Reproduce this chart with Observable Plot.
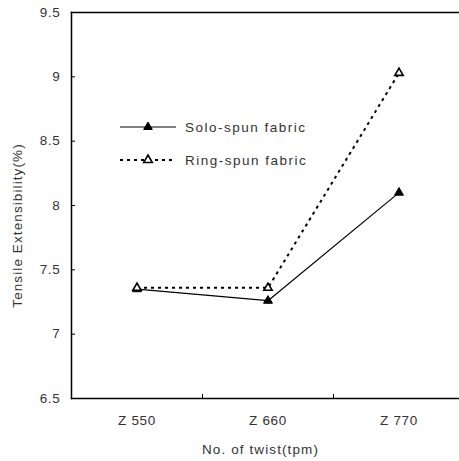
<!DOCTYPE html>
<html><head><meta charset="utf-8">
<script src="https://cdn.jsdelivr.net/npm/d3@7"></script>
<script src="https://cdn.jsdelivr.net/npm/@observablehq/plot@0.6"></script>
<style>
body{margin:0;background:#fff;}
#chart{position:relative;width:459px;height:461px;overflow:hidden;}
</style></head><body><div id="chart"></div>
<script>
const categories = ["Z 550", "Z 660", "Z 770"];
const soloSpun = [7.35, 7.26, 8.10];
const ringSpun = [7.36, 7.36, 9.03];
const yTicks = [6.5, 7, 7.5, 8, 8.5, 9, 9.5];
const seriesNames = ["Solo-spun fabric", "Ring-spun fabric"];
const yTitle = "Tensile Extensibility(%)";
const xTitle = "No. of twist(tpm)";

const solo = categories.map((c, i) => ({pos: i + 1, cat: c, value: soloSpun[i]}));
const ring = categories.map((c, i) => ({pos: i + 1, cat: c, value: ringSpun[i]}));
const bandEdges = categories.slice(1).map((c, i) => i + 1.5);

const FONT = "'Liberation Sans', Arial, sans-serif";
const TXT = "#333";

const plot = Plot.plot({
  width: 459,
  height: 461,
  marginLeft: 71,
  marginTop: 12,
  marginBottom: 63,
  marginRight: 0,
  style: {fontFamily: FONT, fontSize: "13.5px", color: TXT, background: "white", overflow: "visible"},
  x: {type: "linear", domain: [0.5, categories.length + 0.5], range: [71, 464]},
  y: {domain: [6.5, 9.5]},
  marks: [
    Plot.frame({anchor: "left", stroke: "#000", strokeWidth: 1.5}),
    Plot.frame({anchor: "top", stroke: "#000", strokeWidth: 1.5}),
    Plot.frame({anchor: "bottom", stroke: "#000", strokeWidth: 1.5}),
    Plot.axisY({ticks: yTicks, tickSize: -4, stroke: "#000", tickFormat: () => "", label: null}),
    Plot.axisY({ticks: yTicks, tickSize: 0, tickPadding: 11, tickFormat: d => String(d), fill: TXT, label: null}),
    Plot.axisX({ticks: bandEdges, tickSize: -4, stroke: "#000", tickFormat: () => "", label: null}),
    Plot.axisX({ticks: categories.map((c, i) => i + 1), tickSize: 0, tickPadding: 17,
      tickFormat: d => categories[d - 1], fill: TXT, label: null}),
    Plot.text([yTitle], {text: d => d, frameAnchor: "left", textAnchor: "middle", rotate: -90, dx: -54, dy: 20, fill: TXT, className: "ttl"}),
    Plot.text([xTitle], {text: d => d, frameAnchor: "bottom", textAnchor: "middle", dx: -5, dy: 55, fill: TXT, className: "ttl"}),
    Plot.line(solo, {x: "pos", y: "value", stroke: "#000", strokeWidth: 1.2}),
    Plot.line(ring, {x: "pos", y: "value", stroke: "#000", strokeWidth: 2, strokeDasharray: "3,4", strokeLinecap: "butt"}),
    Plot.dot(solo, {x: "pos", y: "value", symbol: "triangle", r: 3.3, fill: "#000", stroke: "#000", strokeWidth: 1}),
    Plot.dot(ring, {x: "pos", y: "value", symbol: "triangle", r: 3.1, fill: "#fff", stroke: "#000", strokeWidth: 1.6})
  ]
});

const svg = d3.select(plot);
svg.selectAll("text").style("letter-spacing", "0.7px");
svg.selectAll(".ttl text, text.ttl").style("letter-spacing", "1.1px");

// Legend (inside the plot area, top-left)
const legend = svg.append("g").attr("font-family", FONT).style("font-size", "13.5px").attr("text-anchor", "start");
const rows = [
  {name: seriesNames[0], y: 127, dash: null, w: 1.2, fill: "#000", sw: 1},
  {name: seriesNames[1], y: 160, dash: "3,4", w: 2, fill: "#fff", sw: 1.6}
];
const tri = d3.symbol(d3.symbolTriangle, 3.2 * 3.2 * Math.PI)();
rows.forEach(r => {
  legend.append("line").attr("x1", 120).attr("x2", 176).attr("y1", r.y).attr("y2", r.y)
    .attr("stroke", "#000").attr("stroke-width", r.w).attr("stroke-dasharray", r.dash);
  legend.append("path").attr("d", tri).attr("transform", `translate(148,${r.y})`)
    .attr("fill", r.fill).attr("stroke", "#000").attr("stroke-width", r.sw);
  legend.append("text").attr("x", 185).attr("y", r.y).attr("dy", "0.35em")
    .attr("fill", TXT).style("letter-spacing", "1.5px").text(r.name);
});

document.getElementById("chart").appendChild(plot);
</script>
</body></html>
